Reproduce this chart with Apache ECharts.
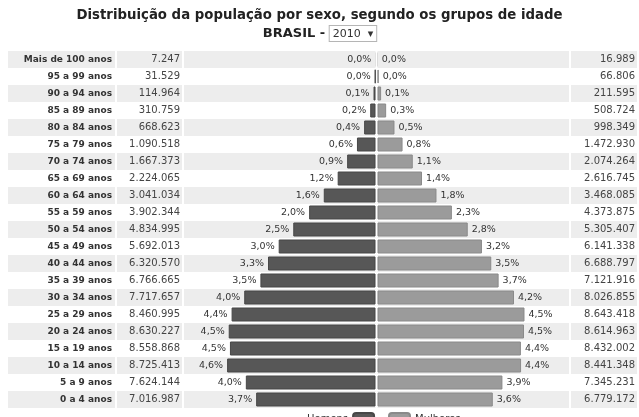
<!DOCTYPE html>
<html>
<head>
<meta charset="utf-8">
<script src="https://cdn.jsdelivr.net/npm/echarts@6/dist/echarts.min.js"></script>
<style>
  html, body { margin: 0; padding: 0; background: #fff; }
  #chart { width: 639px; height: 417px; }
</style>
</head>
<body>
<div id="chart"></div>
<script>
// grupos de idade, de cima para baixo
const ageGroups = ['Mais de 100 anos', '95 a 99 anos', '90 a 94 anos', '85 a 89 anos', '80 a 84 anos',
  '75 a 79 anos', '70 a 74 anos', '65 a 69 anos', '60 a 64 anos', '55 a 59 anos', '50 a 54 anos',
  '45 a 49 anos', '40 a 44 anos', '35 a 39 anos', '30 a 34 anos', '25 a 29 anos', '20 a 24 anos',
  '15 a 19 anos', '10 a 14 anos', '5 a 9 anos', '0 a 4 anos']
const homens = [7247, 31529, 114964, 310759, 668623, 1090518, 1667373, 2224065, 3041034, 3902344, 4834995,
  5692013, 6320570, 6766665, 7717657, 8460995, 8630227, 8558868, 8725413, 7624144, 7016987]
const mulheres = [16989, 66806, 211595, 508724, 998349, 1472930, 2074264, 2616745, 3468085, 4373875, 5305407,
  6141338, 6688797, 7121916, 8026855, 8643418, 8614963, 8432002, 8441348, 7345231, 6779172]
const homensPct = [0.0, 0.0, 0.1, 0.2, 0.4, 0.6, 0.9, 1.2, 1.6, 2.0, 2.5, 3.0, 3.3, 3.5, 4.0, 4.4, 4.5, 4.5, 4.6, 4.0, 3.7]
const mulheresPct = [0.0, 0.0, 0.1, 0.3, 0.5, 0.8, 1.1, 1.4, 1.8, 2.3, 2.8, 3.2, 3.5, 3.7, 4.2, 4.5, 4.5, 4.4, 4.4, 3.9, 3.6]
const anos = ['2010']

const FONT = 'DejaVu Sans'
const fmtNum = v => String(v).replace(/\B(?=(\d{3})+(?!\d))/g, '.')
const fmtPct = v => v.toFixed(1).replace('.', ',') + '%'
// barras quase nulas ficam sem contorno
const barData = arr => arr.map(v => v < 20000 ? {value: v, itemStyle: {borderWidth: 0}} : v)

let gridTop = 51, rowH = 17
let gridHeight = ageGroups.length * rowH
let cols = [
  {left: 8, width: 107},       // rotulos
  {left: 117, width: 65},      // numeros homens
  {left: 184, width: 191.5},   // barras homens
  {left: 377.5, width: 191.5}, // barras mulheres
  {left: 571, width: 66}       // numeros mulheres
]
let xMax = 11260000

let grid = [], xAxis = [], yAxis = []
for (let i = 0; i < cols.length; i++) {
  grid.push({left: cols[i].left, width: cols[i].width, top: gridTop, height: gridHeight})
  xAxis.push({
    type: 'value', gridIndex: i, show: false, min: 0,
    max: (i === 2 || i === 3) ? xMax : 1,
    inverse: i === 2
  })
  let label = {show: false}
  if (i === 0) {
    label = {show: true, inside: true, margin: 3, fontFamily: FONT, fontWeight: 'bold', fontSize: 9, color: '#333'}
  } else if (i === 1 || i === 4) {
    let src = i === 1 ? homens : mulheres
    label = {
      show: true, inside: true, margin: 2, fontFamily: FONT, fontSize: 10, color: '#444',
      formatter: (v, idx) => fmtNum(src[idx])
    }
  }
  yAxis.push({
    type: 'category', gridIndex: i, data: ageGroups, inverse: true, position: 'right',
    axisLine: {show: false}, axisTick: {show: false}, splitLine: {show: false},
    splitArea: {show: true, areaStyle: {color: ['#ededed', '#ffffff']}},
    axisLabel: label
  })
}

let option = {
  animation: false,
  backgroundColor: '#fff',
  title: [
    {
      text: 'Distribuição da população por sexo, segundo os grupos de idade',
      left: 'center', top: 4,
      textStyle: {fontFamily: FONT, fontWeight: 'bold', fontSize: 13.3, color: '#222'}
    },
    {
      text: '{a|BRASIL - }{b|' + anos[0] + '  ▾}',
      left: 'center', top: 21,
      textStyle: {
        rich: {
          a: {fontFamily: FONT, fontWeight: 'bold', fontSize: 13, color: '#222'},
          b: {fontFamily: FONT, fontWeight: 'normal', fontSize: 11, color: '#333', borderColor: '#b5b5b5',
            borderWidth: 1, padding: [3, 3, 1, 3], backgroundColor: '#fff'}
        }
      }
    }
  ],
  legend: [
    {
      data: ['Homens'], align: 'right', left: 302, top: 407, itemWidth: 21, itemHeight: 12,
      textStyle: {fontFamily: FONT, fontSize: 10, color: '#333'}
    },
    {
      data: ['Mulheres'], align: 'left', left: 383, top: 407, itemWidth: 21, itemHeight: 12,
      textStyle: {fontFamily: FONT, fontSize: 10, color: '#333'}
    }
  ],
  grid: grid,
  xAxis: xAxis,
  yAxis: yAxis,
  series: [
    {
      name: 'Homens', type: 'bar', xAxisIndex: 2, yAxisIndex: 2, barWidth: 14,
      data: barData(homens),
      itemStyle: {color: '#575757', borderColor: '#474747', borderWidth: 1},
      label: {
        show: true, position: 'left', distance: 4, fontFamily: FONT, fontSize: 9.5, color: '#333',
        formatter: p => fmtPct(homensPct[p.dataIndex])
      }
    },
    {
      name: 'Mulheres', type: 'bar', xAxisIndex: 3, yAxisIndex: 3, barWidth: 14,
      data: barData(mulheres),
      itemStyle: {color: '#9b9b9b', borderColor: '#8a8a8a', borderWidth: 1},
      label: {
        show: true, position: 'right', distance: 4, fontFamily: FONT, fontSize: 9.5, color: '#333',
        formatter: p => fmtPct(mulheresPct[p.dataIndex])
      }
    }
  ]
}

let myChart = echarts.init(document.getElementById('chart'))
myChart.setOption(option)
</script>
</body>
</html>
